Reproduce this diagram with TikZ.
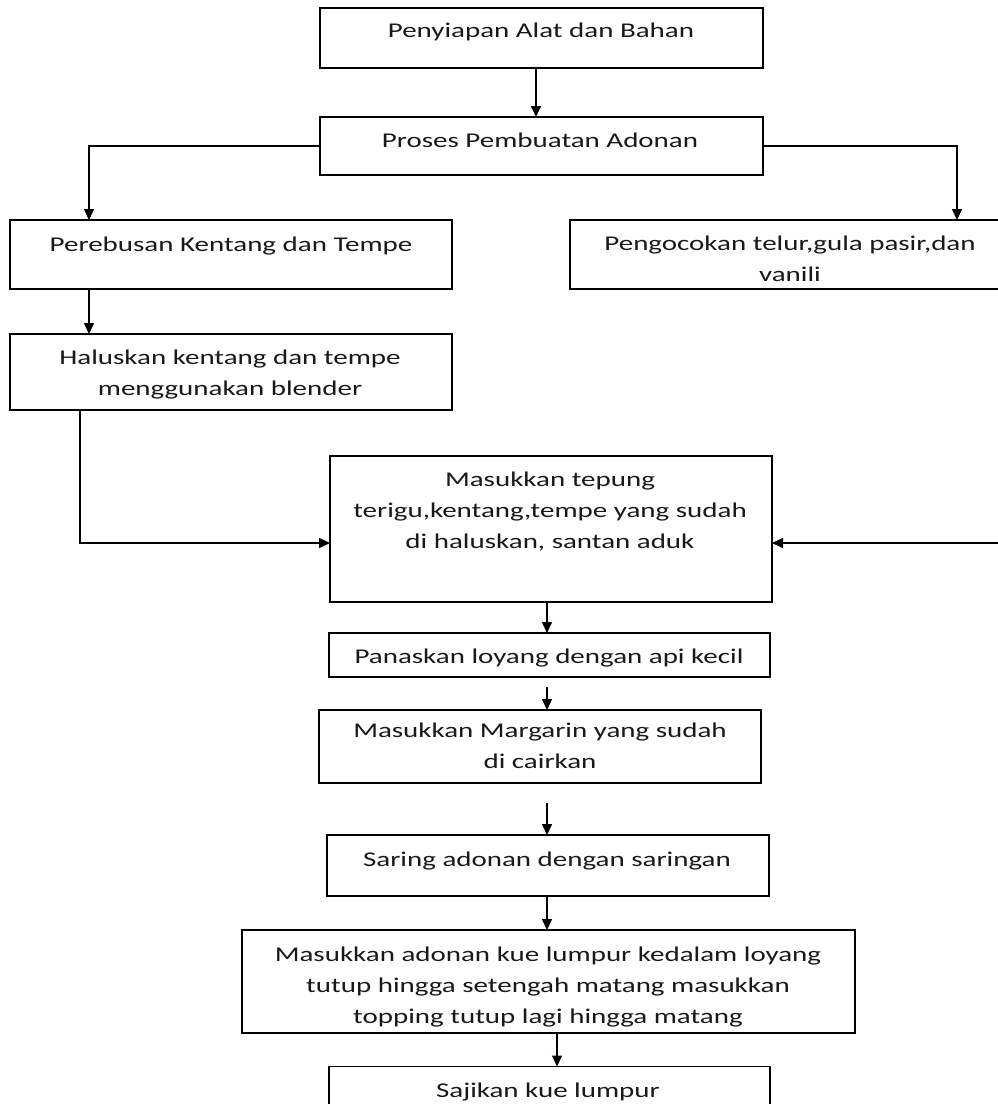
\documentclass[tikz,border=0pt]{standalone}
\usepackage{fontspec}
\setmainfont{Carlito}
\usepackage{graphicx}
\usetikzlibrary{arrows.meta,calc}
\newcommand\stx[1]{\scalebox{1.38}[1]{\begin{tabular}{@{}c@{}}#1\end{tabular}}}
\tikzset{
  box/.style={draw=black,line width=1.5pt,inner sep=0pt,outer sep=0pt,fill=white},
  lbl/.style={inner sep=0pt,font=\fontsize{21}{31}\selectfont,text=black!90},
  arr/.style={line width=1.5pt,-{Triangle[width=10pt,length=11pt]}},
  ln/.style={line width=1.5pt}
}
\begin{document}
\begin{tikzpicture}[x=1pt,y=-1pt]
\useasboundingbox (0,0) rectangle (998,1104);
\clip (0,0) rectangle (998,1104);
\fill[white] (0,0) rectangle (998,1104);
% boxes
\node[box,minimum width=443pt,minimum height=60pt] (b1) at (541.5,38) {};
\node[box,minimum width=443pt,minimum height=58pt] (b2) at (541.5,146) {};
\node[box,minimum width=442pt,minimum height=69pt] (b3) at (231,254.5) {};
\node[box,minimum width=442pt,minimum height=69pt] (b4) at (791,254.5) {};
\node[box,minimum width=442pt,minimum height=76pt] (b5) at (231,372) {};
\node[box,minimum width=442pt,minimum height=146pt] (b6) at (551,529) {};
\node[box,minimum width=441pt,minimum height=44pt] (b7) at (549.5,655) {};
\node[box,minimum width=442pt,minimum height=73pt] (b8) at (540,746.5) {};
\node[box,minimum width=442pt,minimum height=61pt] (b9) at (548,865.5) {};
\node[box,minimum width=613pt,minimum height=103pt] (b10) at (548.5,981.5) {};
\node[box,minimum width=441pt,minimum height=63pt] (b11) at (549.5,1098) {};
% labels
\node[lbl] (t1) at (541,31) {\stx{Penyiapan Alat dan Bahan}};
\node[lbl] (t2) at (540,141) {\stx{Proses Pembuatan Adonan}};
\node[lbl] (t3) at (231,245) {\stx{Perebusan Kentang dan Tempe}};
\node[lbl] (t4) at (790,260) {\stx{Pengocokan telur,gula pasir,dan\\vanili}};
\node[lbl] (t5) at (230,374) {\stx{Haluskan kentang dan tempe\\menggunakan blender}};
\node[lbl] (t6) at (550,511) {\stx{Masukkan tepung\\terigu,kentang,tempe yang sudah\\di haluskan, santan aduk}};
\node[lbl] (t7) at (549,657) {\stx{Panaskan loyang dengan api kecil}};
\node[lbl] (t8) at (540,747) {\stx{Masukkan Margarin yang sudah\\di cairkan}};
\node[lbl] (t9) at (547,860) {\stx{Saring adonan dengan saringan}};
\node[lbl] (t10) at (548,986) {\stx{Masukkan adonan kue lumpur kedalam loyang\\tutup hingga setengah matang masukkan\\topping tutup lagi hingga matang}};
\node[lbl] (t11) at (548,1091) {\stx{Sajikan kue lumpur}};
% coordinates
\coordinate (ax) at (547,0);
\coordinate (lx) at (89,0);
\coordinate (rx) at (957,0);
\coordinate (dx) at (80,0);
\coordinate (ex) at (557,0);
\coordinate (rin) at (1005,543);
% connectors
\draw[arr] (b1.south -| 536,0) -- (b2.north -| 536,0);
\draw[arr] (b2.west) -| (b3.north -| lx);
\draw[arr] (b2.east) -| (b4.north -| rx);
\draw[arr] (b3.south -| lx) -- (b5.north -| lx);
\draw[arr] (b5.south -| dx) |- ([yshift=-14pt]b6.west);
\draw[arr] (rin) -- ([yshift=-14pt]b6.east);
\draw[arr] (b6.south -| ax) -- (b7.north -| ax);
\draw[arr] ($(b7.south -| ax)+(0,10)$) -- (b8.north -| ax);
\draw[arr] ($(b8.south -| ax)+(0,20)$) -- (b9.north -| ax);
\draw[arr] (b9.south -| ax) -- (b10.north -| ax);
\draw[arr] (b10.south -| ex) -- (b11.north -| ex);
\end{tikzpicture}
\end{document}
